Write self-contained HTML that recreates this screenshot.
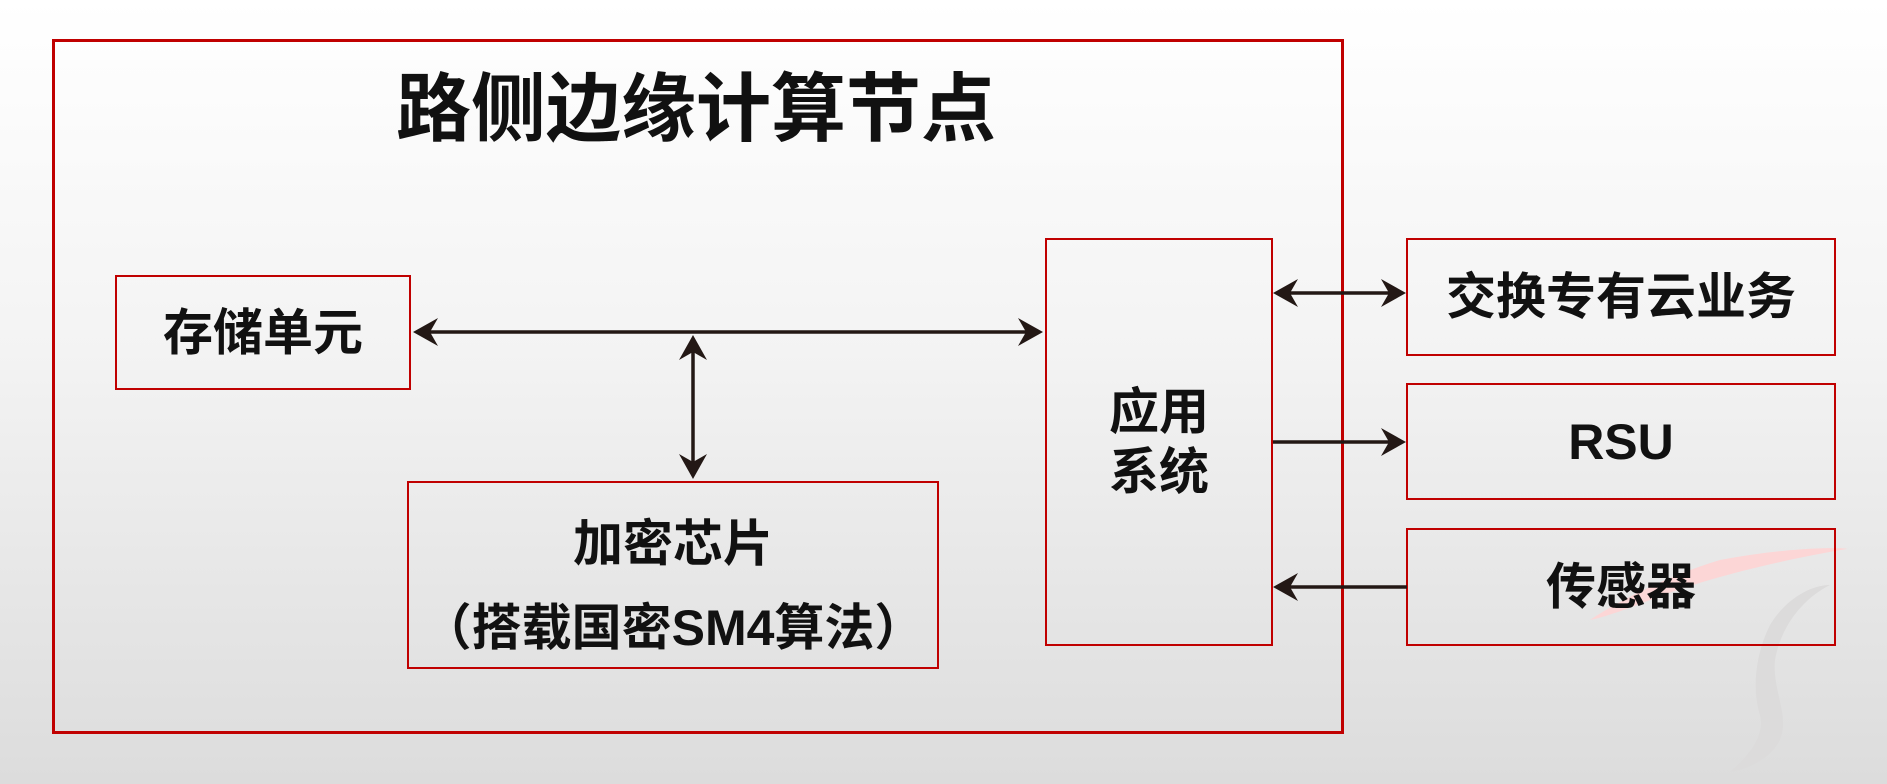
<!DOCTYPE html>
<html><head><meta charset="utf-8"><style>
html,body{margin:0;padding:0}
body{width:1887px;height:784px;overflow:hidden;background:linear-gradient(#ffffff 0%,#f3f3f3 45%,#dcdcdc 100%);position:relative;font-family:"Liberation Sans","Noto Sans CJK SC",sans-serif;}
.b{position:absolute;box-sizing:border-box;border:2px solid #c00000;display:flex;align-items:center;justify-content:center;text-align:center;font-weight:bold;font-size:50px;color:#111;line-height:1.2}
</style></head><body>
<svg width="1887" height="784" style="position:absolute;left:0;top:0">
<path d="M1720 560 C1800 545 1850 548 1847 549 C1780 560 1700 580 1650 600 C1620 612 1600 618 1590 620 C1620 600 1670 575 1720 560Z" fill="#fcd6d6"/>
<path d="M1830 585 C1800 600 1780 630 1775 660 C1772 690 1790 715 1780 740 C1770 760 1745 770 1730 772 C1750 755 1765 735 1760 715 C1752 690 1755 655 1770 625 C1785 600 1810 585 1830 585Z" fill="#dcdbdb"/>
</svg>
<div class="b" style="left:52px;top:39px;width:1292px;height:695px;border-width:3px;"></div>
<div style="position:absolute;left:380px;top:68px;width:632px;text-align:center;font-weight:bold;font-size:75px;line-height:1.1;color:#111;font-family:'Liberation Sans','Noto Sans CJK SC',sans-serif">路侧边缘计算节点</div>
<div class="b" style="left:115px;top:275px;width:296px;height:115px">存储单元</div>
<div class="b" style="left:407px;top:481px;width:532px;height:188px;line-height:84px;padding-top:22px">加密芯片<br>（搭载国密SM4算法）</div>
<div class="b" style="left:1045px;top:238px;width:228px;height:408px;line-height:60px">应用<br>系统</div>
<div class="b" style="left:1406px;top:238px;width:430px;height:118px">交换专有云业务</div>
<div class="b" style="left:1406px;top:383px;width:430px;height:117px">RSU</div>
<div class="b" style="left:1406px;top:528px;width:430px;height:118px">传感器</div>
<svg width="1887" height="784" style="position:absolute;left:0;top:0">
<g stroke="#231815" stroke-width="3.5" fill="none">
<line x1="420" y1="332" x2="1035" y2="332"/>
<line x1="693" y1="342" x2="693" y2="472"/>
<line x1="1280" y1="293" x2="1400" y2="293"/>
<line x1="1273" y1="442" x2="1400" y2="442"/>
<line x1="1282" y1="587" x2="1407" y2="587"/>
</g>
<g fill="#231815">
<path d="M413 332 L438 318 L430 332 L438 346Z"/>
<path d="M1043 332 L1018 318 L1026 332 L1018 346Z"/>
<path d="M693 335 L679 360 L693 352 L707 360Z"/>
<path d="M693 479 L679 454 L693 462 L707 454Z"/>
<path d="M1273 293 L1298 279 L1290 293 L1298 307Z"/>
<path d="M1406 293 L1381 279 L1389 293 L1381 307Z"/>
<path d="M1406 442 L1381 428 L1389 442 L1381 456Z"/>
<path d="M1273 587 L1298 573 L1290 587 L1298 601Z"/>
</g>
</svg>
</body></html>
